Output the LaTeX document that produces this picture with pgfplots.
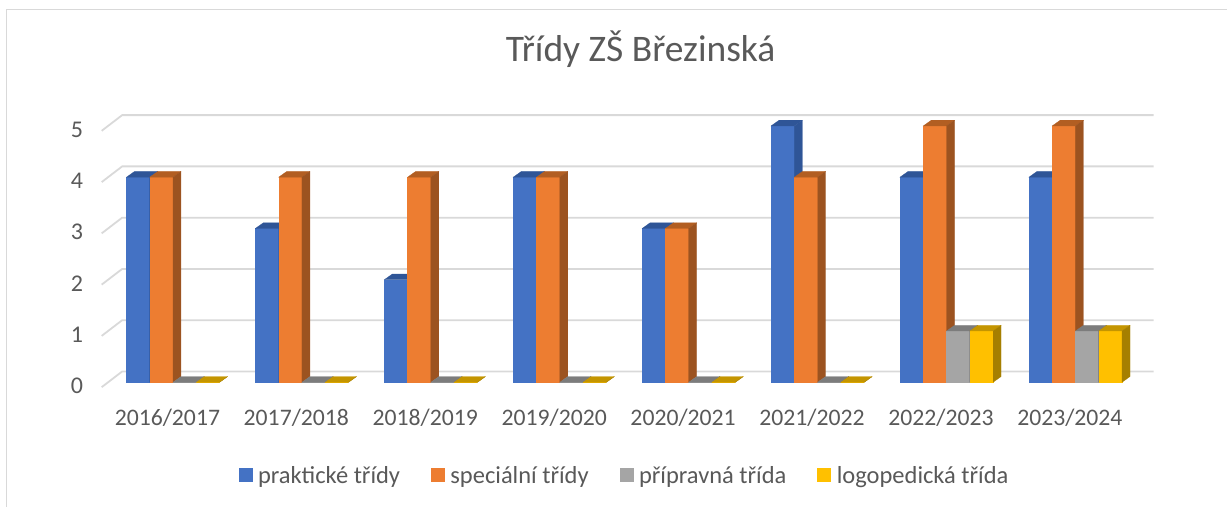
\documentclass[border=0pt]{standalone}
\usepackage{fontspec}
\setmainfont{Carlito}
\usepackage{pgfplots}
\pgfplotsset{compat=1.18}

\definecolor{txt}{HTML}{595959}
\definecolor{gridc}{HTML}{D9D9D9}
\definecolor{blueF}{HTML}{4472C4}
\definecolor{blueT}{HTML}{2F5597}
\definecolor{blueS}{HTML}{2F5597}
\definecolor{orangeF}{HTML}{ED7D31}
\definecolor{orangeT}{HTML}{B25E22}
\definecolor{orangeS}{HTML}{9C5320}
\definecolor{greyF}{HTML}{A5A5A5}
\definecolor{greyT}{HTML}{7C7C7C}
\definecolor{greyS}{HTML}{6E6E6E}
\definecolor{goldF}{HTML}{FFC000}
\definecolor{goldT}{HTML}{C49500}
\definecolor{goldS}{HTML}{A67F00}

% group, series index, value, colour prefix
\newcommand{\threedbar}[4]{%
  \pgfmathsetmacro\xa{-0.310+#1+#2*0.1806}%
  \pgfmathsetmacro\xb{\xa+0.1806}%
  \pgfmathsetmacro\xc{\xa+0.062}%
  \pgfmathsetmacro\xd{\xb+0.062}%
  \pgfmathsetmacro\yb{#3+0.111}%
  \edef\doit{%
    \noexpand\addplot[forget plot,draw=#4F,line width=0.2pt,fill=#4F] coordinates {(\xa,0) (\xb,0) (\xb,#3) (\xa,#3)} --cycle;
    \noexpand\addplot[forget plot,draw=#4T,line width=0.2pt,fill=#4T] coordinates {(\xa,#3) (\xb,#3) (\xd,\yb) (\xc,\yb)} --cycle;
    \noexpand\addplot[forget plot,draw=#4S,line width=0.2pt,fill=#4S] coordinates {(\xb,0) (\xd,0.111) (\xd,\yb) (\xb,#3)} --cycle;
  }\doit
}

\begin{document}
\begin{tikzpicture}
\begin{axis}[
    scale only axis,
    width=1228pt,
    height=507pt,
    xmin=-1.2907, xmax=8.2287,
    ymin=-2.4269, ymax=7.4561,
    clip=false,
    axis line style={draw=none},
    tick style={draw=none},
    xtick={0,1,2,3,4,5,6,7},
    xticklabels={2016/2017,2017/2018,2018/2019,2019/2020,2020/2021,2021/2022,2022/2023,2023/2024},
    ytick={0,1,2,3,4,5},
    x tick label style={anchor=center,xshift=1pt,yshift=89pt,font=\fontsize{23.7}{26}\selectfont,text=txt},
    y tick label style={anchor=center,xshift=77pt,yshift=-3.5pt,font=\fontsize{24}{26}\selectfont,text=txt},
    /pgf/number format/assume math mode=true,
    title={Třídy ZŠ Březinská},
    title style={at={(0.522,0.891)},anchor=center,font=\fontsize{37.5}{40}\selectfont,text=txt},
    legend columns=4,
    legend cell align=left,
    legend image code/.code={\fill[#1] (0pt,-5pt) rectangle (13pt,8pt); \path (17pt,0pt);},
    legend style={at={(0.5089,0.0611)},anchor=center,draw=none,fill=none,
      font=\fontsize{24.5}{26}\selectfont,text=txt,
      /tikz/every even column/.append style={column sep=29pt}},
]
% chart frame
\draw[gridc,line width=1.5pt] (axis cs:-1.2384,-2.4269) -- (axis cs:-1.2384,7.2671) -- (axis cs:8.2287,7.2671);

% gridlines: front left, back left, right end
\addplot[forget plot,gridc,line width=1.8pt] coordinates {(-0.502,-0.0955) (-0.343,0.2105) (7.657,0.2105)};
\addplot[forget plot,gridc,line width=1.8pt] coordinates {(-0.502,0.9045) (-0.343,1.2105) (7.657,1.2105)};
\addplot[forget plot,gridc,line width=1.8pt] coordinates {(-0.502,1.9045) (-0.343,2.2105) (7.657,2.2105)};
\addplot[forget plot,gridc,line width=1.8pt] coordinates {(-0.502,2.9045) (-0.343,3.2105) (7.657,3.2105)};
\addplot[forget plot,gridc,line width=1.8pt] coordinates {(-0.502,3.9045) (-0.343,4.2105) (7.657,4.2105)};
\addplot[forget plot,gridc,line width=1.8pt] coordinates {(-0.502,4.9045) (-0.343,5.2105) (7.657,5.2105)};

% 2016/2017
\threedbar{0}{0}{4}{blue}\threedbar{0}{1}{4}{orange}\threedbar{0}{2}{0}{grey}\threedbar{0}{3}{0}{gold}
% 2017/2018
\threedbar{1}{0}{3}{blue}\threedbar{1}{1}{4}{orange}\threedbar{1}{2}{0}{grey}\threedbar{1}{3}{0}{gold}
% 2018/2019
\threedbar{2}{0}{2}{blue}\threedbar{2}{1}{4}{orange}\threedbar{2}{2}{0}{grey}\threedbar{2}{3}{0}{gold}
% 2019/2020
\threedbar{3}{0}{4}{blue}\threedbar{3}{1}{4}{orange}\threedbar{3}{2}{0}{grey}\threedbar{3}{3}{0}{gold}
% 2020/2021
\threedbar{4}{0}{3}{blue}\threedbar{4}{1}{3}{orange}\threedbar{4}{2}{0}{grey}\threedbar{4}{3}{0}{gold}
% 2021/2022
\threedbar{5}{0}{5}{blue}\threedbar{5}{1}{4}{orange}\threedbar{5}{2}{0}{grey}\threedbar{5}{3}{0}{gold}
% 2022/2023
\threedbar{6}{0}{4}{blue}\threedbar{6}{1}{5}{orange}\threedbar{6}{2}{1}{grey}\threedbar{6}{3}{1}{gold}
% 2023/2024
\threedbar{7}{0}{4}{blue}\threedbar{7}{1}{5}{orange}\threedbar{7}{2}{1}{grey}\threedbar{7}{3}{1}{gold}

\addlegendimage{blueF}\addlegendentry{praktické třídy}
\addlegendimage{orangeF}\addlegendentry{speciální třídy}
\addlegendimage{greyF}\addlegendentry{přípravná třída}
\addlegendimage{goldF}\addlegendentry{logopedická třída}
\end{axis}
\end{tikzpicture}
\end{document}
